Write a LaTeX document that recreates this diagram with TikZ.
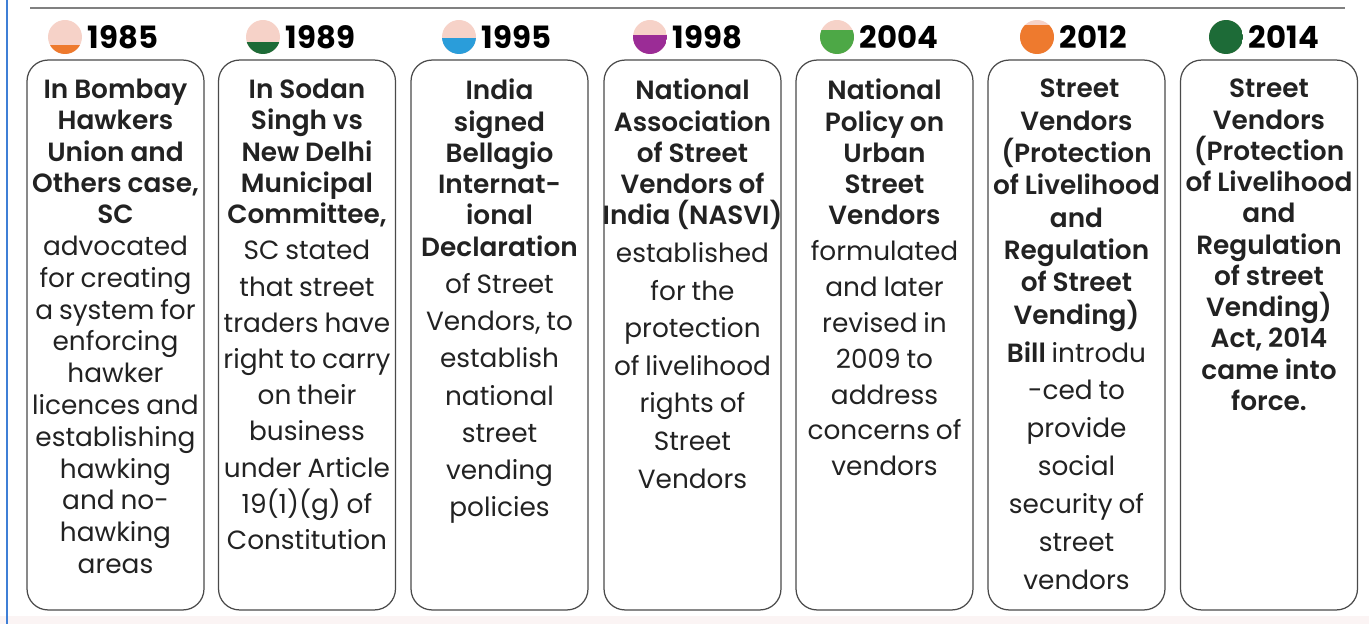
\documentclass[tikz,border=0pt]{standalone}
\usepackage{fontspec}
\setmainfont{Poppins}[BoldFont={Poppins SemiBold}]
\newfontfamily\yearfont{Poppins Bold}
\usetikzlibrary{positioning,calc}

\definecolor{dotpink}{HTML}{F6D2C8}
\definecolor{saffron}{HTML}{EE7A2E}
\definecolor{darkgreen}{HTML}{1D6B37}
\definecolor{skyblue}{HTML}{2A9DDA}
\definecolor{plum}{HTML}{9B2C96}
\definecolor{leafgreen}{HTML}{4DA846}
\definecolor{cardgray}{HTML}{4A4A4A}
\definecolor{textdark}{HTML}{222222}
\definecolor{edgeblue}{HTML}{3F7FD6}
\definecolor{footpink}{HTML}{FBF4F4}

\newcommand\headfont[1][17.8pt]{\fontsize{15pt}{#1}\bfseries}
\newcommand\bodyfont[1][20.9pt]{\fontsize{15pt}{#1}\selectfont}

\tikzset{
    card/.style={draw=cardgray, line width=0.7pt, rounded corners=12pt,
        minimum width=3.54cm, minimum height=11cm, inner sep=0pt},
    cardtext/.style={anchor=north, inner sep=0pt, text width=4.6cm,
        align=center, text=textdark},
    yeardot/.style 2 args={circle, minimum size=0.68cm, inner sep=0pt,
        path picture={
            \fill[dotpink] (path picture bounding box.south west)
                rectangle (path picture bounding box.north east);
            \fill[#1] (path picture bounding box.south west)
                rectangle ($(path picture bounding box.south east)!#2!(path picture bounding box.north east)$);
        }},
    yeartext/.style={inner sep=0pt, anchor=west, text=black,
        font=\fontsize{17.5pt}{17.5pt}\yearfont}
}

\begin{document}
\begin{tikzpicture}[x=0.02cm, y=-0.02cm]
    \useasboundingbox (0,0) rectangle (1369,624);
    \fill[footpink] (0,616) rectangle (1369,624);
    \draw[edgeblue, line width=1.2pt] (7,0) -- (7,624);
    \draw[gray, line width=0.8pt] (30,8) -- (1345,8);

    % year markers
    \node[yeardot={saffron}{0.27}] (d1) at (65,37) {};
    \node[yeartext, right=3pt of d1] (y1) {1985};
    \node[yeardot={darkgreen}{0.34}] (d2) at (263,37) {};
    \node[yeartext, right=3pt of d2] (y2) {1989};
    \node[yeardot={skyblue}{0.47}] (d3) at (459,37) {};
    \node[yeartext, right=3pt of d3] (y3) {1995};
    \node[yeardot={plum}{0.56}] (d4) at (650,37) {};
    \node[yeartext, right=3pt of d4] (y4) {1998};
    \node[yeardot={leafgreen}{0.71}] (d5) at (837,37) {};
    \node[yeartext, right=3pt of d5] (y5) {2004};
    \node[yeardot={saffron}{0.85}] (d6) at (1037,37) {};
    \node[yeartext, right=3pt of d6] (y6) {2012};
    \node[yeardot={darkgreen}{1}] (d7) at (1226,37) {};
    \node[yeartext, right=3pt of d7] (y7) {2014};

    % cards
    \node[card] (c1) at (115.5,335) {};
    \node[card] (c2) at (307,335) {};
    \node[card] (c3) at (499.5,335) {};
    \node[card] (c4) at (692.5,335) {};
    \node[card] (c5) at (884.5,335) {};
    \node[card] (c6) at (1076.5,335) {};
    \node[card] (c7) at (1269,335) {};

    \node[cardtext, below=11pt of c1.north] (t1) {%
        {\headfont In Bombay\\ Hawkers\\ Union and\\ Others case,\\ SC\par}
        {\bodyfont[18.1pt] advocated\\ for creating\\ a system for\\ enforcing\\ hawker\\
        licences and\\ establishing\\ hawking\\ and no-\\ hawking\\ areas\par}};
    \node[cardtext, below=11pt of c2.north] (t2) {%
        {\headfont In Sodan\\ Singh vs\\ New Delhi\\ Municipal\\ Committee,\par}
        {\bodyfont[20.6pt] SC stated\\ that street\\ traders have\\ right to carry\\ on their\\
        business\\ under Article\\ 19(1)(g) of\\ Constitution\par}};
    \node[cardtext, below=11pt of c3.north] (t3) {%
        {\headfont India\\ signed\\ Bellagio\\ Internat-\\ ional\\ Declaration\par}
        {\bodyfont[21.2pt] of Street\\ Vendors, to\\ establish\\ national\\ street\\
        vending\\ policies\par}};
    \node[cardtext, below=11pt of c4.north] (t4) {%
        {\headfont National\\ Association\\ of Street\\ Vendors of\\ India (NASVI)\par}
        {\bodyfont[21.4pt] established\\ for the\\ protection\\ of livelihood\\ rights of\\
        Street\\ Vendors\par}};
    \node[cardtext, below=11pt of c5.north] (t5) {%
        {\headfont National\\ Policy on\\ Urban\\ Street\\ Vendors\par}
        {\bodyfont[20.4pt] formulated\\ and later\\ revised in\\ 2009 to\\ address\\
        concerns of\\ vendors\par}};
    \node[cardtext, below=11pt of c6.north] (t6) {%
        {\headfont[18.4pt] Street\\ Vendors\\ (Protection\\ of Livelihood\\ and\\ Regulation\\
        of Street\\ Vending)\par}
        {\bodyfont[21.6pt] \textbf{Bill} introdu\\ -ced to\\ provide\\ social\\ security of\\
        street\\ vendors\par}};
    \node[cardtext, below=11pt of c7.north] (t7) {%
        {\headfont Street\\ Vendors\\ (Protection\\ of Livelihood\\ and\\ Regulation\\
        of street\\ Vending)\\ Act, 2014\\ came into\\ force.\par}};
\end{tikzpicture}
\end{document}
